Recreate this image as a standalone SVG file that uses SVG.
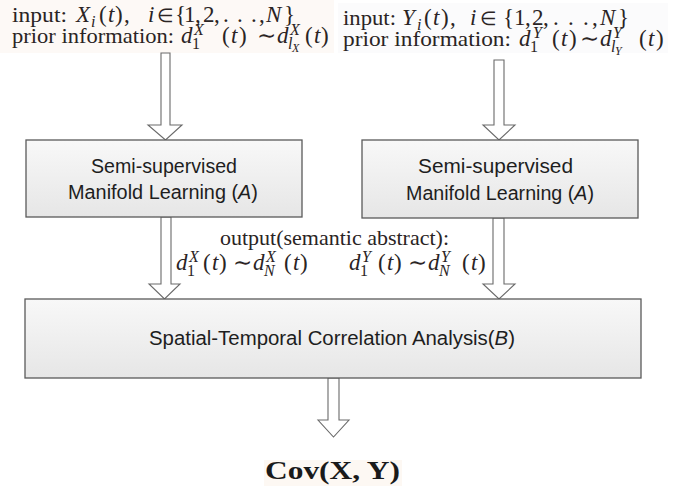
<svg xmlns="http://www.w3.org/2000/svg" width="694" height="487" viewBox="0 0 694 487">
<defs>
<linearGradient id="g" x1="0" y1="0" x2="0" y2="1">
<stop offset="0" stop-color="#f8f8f8"/>
<stop offset="1" stop-color="#e6e6e6"/>
</linearGradient>
<style>
.box{fill:url(#g);stroke:#5a5a5a;stroke-width:1.3}
.arr{fill:#ffffff;stroke:#6a6a6a;stroke-width:1.1;stroke-linejoin:miter}
.m{font-family:"Liberation Serif","Times New Roman",serif;font-size:22px;fill:#2a2424}
.mm{font-family:"Liberation Serif","Times New Roman",serif;font-size:23px;fill:#2a2424}
.i{font-style:italic}
.s{font-size:16px}
.ss{font-size:12px}
.el{font-size:19px}
.tl{font-family:"DejaVu Sans",sans-serif;font-size:23px}
.b{font-family:"Liberation Sans",Arial,sans-serif;font-size:20px;fill:#1e1e1e}
.cov{font-family:"Liberation Serif","Times New Roman",serif;font-size:25px;font-weight:bold;fill:#1a1a1a}
.tint{stroke:none}
</style>
</defs>
<rect width="694" height="487" fill="#ffffff"/>
<rect class="tint" x="0" y="0" width="334" height="53" fill="#fdf9f6"/>
<rect class="tint" x="338" y="3" width="330" height="50" fill="#fbfbfc"/>
<rect class="tint" x="264" y="460" width="138" height="26" fill="#fdf8f3"/>

<g id="input-x">
<text class="m" x="12" y="22" textLength="55" lengthAdjust="spacingAndGlyphs">input:</text>
<text class="mm"><tspan class="i" x="76" y="22">X</tspan><tspan class="i s" x="91" y="27">i</tspan><tspan x="99" y="22">(</tspan><tspan class="i" x="108" y="22">t</tspan><tspan x="115" y="22">)</tspan><tspan x="124" y="22">,</tspan><tspan class="i" x="148" y="22">i</tspan><tspan class="el" x="157" y="22">∈</tspan><tspan x="175" y="22">{</tspan><tspan x="184" y="22">1</tspan><tspan x="195" y="22">,</tspan><tspan x="203" y="22">2</tspan><tspan x="214" y="22">,</tspan><tspan x="223" y="22">.</tspan><tspan x="237" y="22">.</tspan><tspan x="251" y="22">.</tspan><tspan x="259" y="22">,</tspan><tspan class="i" x="266" y="22">N</tspan><tspan x="284" y="22">}</tspan></text>
<text class="m" x="12" y="43" textLength="162" lengthAdjust="spacingAndGlyphs">prior information:</text>
<text class="mm"><tspan class="i" x="181" y="43">d</tspan><tspan class="s" x="192" y="49">1</tspan><tspan class="i s" x="194" y="35">X</tspan><tspan x="222" y="43">(</tspan><tspan class="i" x="231" y="43">t</tspan><tspan x="239" y="43">)</tspan><tspan class="tl" x="257" y="43">∼</tspan><tspan class="i" x="277" y="43">d</tspan><tspan class="i s" x="288" y="49">l</tspan><tspan class="i ss" x="292" y="52">X</tspan><tspan class="i s" x="290" y="35">X</tspan><tspan x="305" y="43">(</tspan><tspan class="i" x="314" y="43">t</tspan><tspan x="321" y="43">)</tspan></text>
</g>

<g id="input-y">
<text class="m" x="343" y="25" textLength="53" lengthAdjust="spacingAndGlyphs">input:</text>
<text class="mm"><tspan class="i" x="402" y="25">Y</tspan><tspan class="i s" x="417" y="30">i</tspan><tspan x="424" y="25">(</tspan><tspan class="i" x="433" y="25">t</tspan><tspan x="441" y="25">)</tspan><tspan x="450" y="25">,</tspan><tspan class="i" x="470" y="25">i</tspan><tspan class="el" x="480" y="25">∈</tspan><tspan x="503" y="25">{</tspan><tspan x="514" y="25">1</tspan><tspan x="525" y="25">,</tspan><tspan x="532" y="25">2</tspan><tspan x="543" y="25">,</tspan><tspan x="553" y="25">.</tspan><tspan x="568" y="25">.</tspan><tspan x="583" y="25">.</tspan><tspan x="592" y="25">,</tspan><tspan class="i" x="600" y="25">N</tspan><tspan x="618" y="25">}</tspan></text>
<text class="m" x="343" y="46" textLength="168" lengthAdjust="spacingAndGlyphs">prior information:</text>
<text class="mm"><tspan class="i" x="519" y="46">d</tspan><tspan class="s" x="530" y="52">1</tspan><tspan class="i s" x="533" y="38">Y</tspan><tspan x="552" y="46">(</tspan><tspan class="i" x="561" y="46">t</tspan><tspan x="569" y="46">)</tspan><tspan class="tl" x="580" y="46">∼</tspan><tspan class="i" x="600" y="46">d</tspan><tspan class="i s" x="611" y="52">l</tspan><tspan class="i ss" x="615" y="55">Y</tspan><tspan class="i s" x="613" y="38">Y</tspan><tspan x="639" y="46">(</tspan><tspan class="i" x="648" y="46">t</tspan><tspan x="656" y="46">)</tspan></text>
</g>

<g id="connectors">
<polygon class="arr" points="161,53 170,53 170,125 182,125 165.5,140 148,125 161,125"/>
<polygon class="arr" points="494,60 504,60 504,125 515,125 499,140 483,125 494,125"/>
<polygon class="arr" points="161,217 171,217 171,284 180,284 164.5,299 149,284 161,284"/>
<polygon class="arr" points="493,218 504,218 504,284 515,284 499,299 483,284 493,284"/>
<polygon class="arr" points="328,378 339,378 339,420 349,420 333.5,437 318,420 328,420"/>
</g>

<g id="node-a-left">
<rect class="box" x="26" y="140" width="276" height="77"/>
<text class="b" x="91" y="173" textLength="146" lengthAdjust="spacingAndGlyphs">Semi-supervised</text>
<text class="b" x="68" y="199" textLength="190" lengthAdjust="spacingAndGlyphs">Manifold Learning (<tspan font-style="italic">A</tspan>)</text>
</g>

<g id="node-a-right">
<rect class="box" x="362" y="140" width="276" height="78"/>
<text class="b" x="418" y="173" textLength="155" lengthAdjust="spacingAndGlyphs">Semi-supervised</text>
<text class="b" x="406" y="200" textLength="188" lengthAdjust="spacingAndGlyphs">Manifold Learning (<tspan font-style="italic">A</tspan>)</text>
</g>

<g id="output-label">
<text class="m" x="220" y="245" textLength="229" lengthAdjust="spacingAndGlyphs">output(semantic abstract):</text>
<text class="mm"><tspan class="i" x="176" y="270">d</tspan><tspan class="s" x="187" y="276">1</tspan><tspan class="i s" x="189" y="262">X</tspan><tspan x="203" y="270">(</tspan><tspan class="i" x="212" y="270">t</tspan><tspan x="219" y="270">)</tspan><tspan class="tl" x="233" y="270">∼</tspan><tspan class="i" x="253" y="270">d</tspan><tspan class="i s" x="264" y="276">N</tspan><tspan class="i s" x="266" y="262">X</tspan><tspan x="284" y="270">(</tspan><tspan class="i" x="293" y="270">t</tspan><tspan x="300" y="270">)</tspan></text>
<text class="mm"><tspan class="i" x="349" y="270">d</tspan><tspan class="s" x="360" y="276">1</tspan><tspan class="i s" x="362" y="262">Y</tspan><tspan x="378" y="270">(</tspan><tspan class="i" x="387" y="270">t</tspan><tspan x="394" y="270">)</tspan><tspan class="tl" x="408" y="270">∼</tspan><tspan class="i" x="428" y="270">d</tspan><tspan class="i s" x="439" y="276">N</tspan><tspan class="i s" x="441" y="262">Y</tspan><tspan x="462" y="270">(</tspan><tspan class="i" x="471" y="270">t</tspan><tspan x="478" y="270">)</tspan></text>
</g>

<g id="node-b">
<rect class="box" x="25" y="299" width="616" height="79"/>
<text class="b" x="149" y="345" textLength="366" lengthAdjust="spacingAndGlyphs">Spatial-Temporal Correlation Analysis(<tspan font-style="italic">B</tspan>)</text>
</g>

<g id="result">
<text class="cov" x="265" y="479" textLength="135" lengthAdjust="spacingAndGlyphs">Cov(X, Y)</text>
</g>
</svg>
